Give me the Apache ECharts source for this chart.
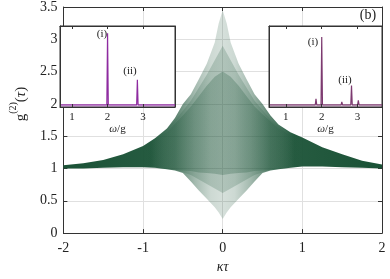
<!DOCTYPE html>
<html><head><meta charset="utf-8">
<script src="https://cdn.jsdelivr.net/npm/echarts@6/dist/echarts.min.js"></script>
<style>html,body{margin:0;padding:0;background:#fff}#c{width:390px;height:279px}</style>
</head><body><div id="c"></div>
<script>
// ---- data ----
// outer envelope of the g2(tau) point cloud
const tau       = [-2, -1.75, -1.5, -1.25, -1, -0.85, -0.7, -0.6, -0.5, -0.4, -0.3, -0.2, -0.1, -0.05, 0, 0.05, 0.1, 0.2, 0.3, 0.4, 0.5, 0.6, 0.7, 0.85, 1, 1.25, 1.5, 1.75, 2];
const upperEnv  = [1.05, 1.08, 1.13, 1.22, 1.35, 1.47, 1.62, 1.78, 2.00, 2.15, 2.38, 2.62, 2.95, 3.25, 3.45, 3.25, 2.95, 2.62, 2.38, 2.15, 2.00, 1.82, 1.68, 1.56, 1.48, 1.33, 1.22, 1.12, 1.06];
const lowerEnv  = [1.00, 1.00, 1.01, 1.02, 1.02, 1.01, 0.99, 0.97, 0.93, 0.80, 0.66, 0.53, 0.40, 0.32, 0.22, 0.32, 0.40, 0.53, 0.66, 0.80, 0.93, 0.97, 0.99, 1.01, 1.03, 1.03, 1.02, 1.01, 1.00];
// denser part of the cloud
const midTau    = [-1.0, -0.8, -0.6, -0.4, -0.2, 0, 0.2, 0.4, 0.6, 0.8, 1.0];
const midUpper  = [1.33, 1.50, 1.74, 2.05, 2.45, 2.90, 2.45, 2.05, 1.76, 1.55, 1.46];
const midLower  = [1.02, 1.00, 0.98, 0.90, 0.76, 0.62, 0.76, 0.90, 0.98, 1.00, 1.03];
// densest core of the cloud
const coreTau   = [-0.9, -0.7, -0.5, -0.4, -0.3, -0.2, -0.1, 0, 0.1, 0.2, 0.3, 0.4, 0.5, 0.7, 0.9];
const coreUpper = [1.42, 1.56, 1.82, 1.96, 2.12, 2.28, 2.42, 2.50, 2.42, 2.28, 2.12, 1.96, 1.84, 1.62, 1.48];
const coreLower = [1.00, 0.99, 0.97, 0.96, 0.94, 0.93, 0.92, 0.90, 0.92, 0.93, 0.94, 0.96, 0.97, 0.99, 1.00];

const insetTicks = [1, 2, 3];
const leftW  = [0.66, 1.70, 1.73, 1.76, 1.98, 2.00, 2.02, 2.82, 2.84, 2.86, 3.90];
const leftS  = [0.03, 0.03, 0.05, 0.03, 0.03, 1.00, 0.03, 0.03, 0.37, 0.03, 0.03];
const rightW = [0.53, 1.82, 1.84, 1.86, 1.98, 2.00, 2.02, 2.54, 2.56, 2.58, 2.81, 2.83, 2.85, 3.00, 3.02, 3.04, 3.47, 3.49, 3.51, 3.68];
const rightS = [0.03, 0.03, 0.11, 0.03, 0.03, 0.95, 0.03, 0.03, 0.07, 0.03, 0.03, 0.29, 0.03, 0.03, 0.09, 0.03, 0.03, 0.05, 0.03, 0.03];

// ---- chart ----
const SERIF = '"Liberation Serif", "DejaVu Serif", serif';
const G = 'rgba(26,82,54,';
const chart = echarts.init(document.getElementById('c'), null, {renderer: 'canvas'});

function poly(api, xs, up, lo) {
  const pts = [];
  for (let i = 0; i < xs.length; i++) pts.push(api.coord([xs[i], up[i]]));
  for (let i = xs.length - 1; i >= 0; i--) pts.push(api.coord([xs[i], lo[i]]));
  return pts;
}
function cloudItem(params, api) {
  const a = api.coord([-2, 0])[0], b = api.coord([2, 0])[0];
  const off = t => (t + 2) / 4;
  const grad = stops => new echarts.graphic.LinearGradient(a, 0, b, 0,
    stops.map(s => ({offset: off(s[0]), color: G + s[1] + ')'})), true);
  const outerFill = grad([[-2, 1], [-0.9, 0.95], [-0.6, 0.72], [-0.35, 0.4], [-0.15, 0.22], [0, 0.18],
                          [0.15, 0.22], [0.35, 0.4], [0.6, 0.72], [0.9, 0.95], [2, 1]]);
  const midFill = grad([[-1.0, 0], [-0.7, 0.15], [-0.4, 0.2], [0.4, 0.2], [0.7, 0.15], [1.0, 0]]);
  const coreFill = grad([[-0.9, 0], [-0.6, 0.2], [-0.3, 0.25], [0.3, 0.25], [0.6, 0.2], [0.9, 0]]);
  return {type: 'group', children: [
    {type: 'polygon', shape: {points: poly(api, tau, upperEnv, lowerEnv)}, style: {fill: outerFill}},
    {type: 'polygon', shape: {points: poly(api, midTau, midUpper, midLower)}, style: {fill: midFill}},
    {type: 'polygon', shape: {points: poly(api, coreTau, coreUpper, coreLower)}, style: {fill: coreFill}}
  ]};
}

const axLine = {show: true, onZero: false, lineStyle: {color: '#333', width: 1}};
const lbl = {fontFamily: SERIF, fontSize: 14, color: '#222'};

function insetX(grid, min, max) {
  return [
    {gridIndex: grid, type: 'value', min: min, max: max, z: 7,
     axisLine: axLine, axisTick: {inside: true, length: 3, customValues: insetTicks, lineStyle: {color: '#333'}},
     axisLabel: {customValues: insetTicks, fontFamily: SERIF, fontSize: 11, color: '#222', margin: 5},
     splitLine: {show: false},
     name: '{w|ω}/g', nameLocation: 'middle', nameGap: 17,
     nameTextStyle: {fontFamily: SERIF, fontSize: 11, color: '#222', rich: {w: {fontFamily: SERIF, fontSize: 11, fontStyle: 'italic', color: '#222'}}}},
    {gridIndex: grid, type: 'value', position: 'top', min: min, max: max, z: 7,
     axisLine: axLine, axisTick: {inside: true, length: 3, customValues: insetTicks, lineStyle: {color: '#333'}},
     axisLabel: {show: false}, splitLine: {show: false}}
  ];
}
function insetY(grid) {
  return [
    {gridIndex: grid, type: 'value', min: 0, max: 1.1, z: 7, axisLine: axLine, axisTick: {show: false}, axisLabel: {show: false}, splitLine: {show: false}},
    {gridIndex: grid, type: 'value', position: 'right', min: 0, max: 1.1, z: 7, axisLine: axLine, axisTick: {show: false}, axisLabel: {show: false}, splitLine: {show: false}}
  ];
}

const option = {
  animation: false,
  backgroundColor: '#fff',
  grid: [
    {left: 59, right: 8, top: 5, bottom: 36},
    {left: 60, top: 26, width: 115, height: 81, show: true, backgroundColor: '#fff', borderColor: '#333', borderWidth: 1, z: 5},
    {left: 269, top: 26, width: 113, height: 81, show: true, backgroundColor: '#fff', borderColor: '#333', borderWidth: 1, z: 5}
  ],
  xAxis: [
    {gridIndex: 0, type: 'value', min: -2, max: 2, interval: 1,
     axisLine: axLine, axisTick: {inside: true, length: 4, lineStyle: {color: '#333'}},
     axisLabel: Object.assign({margin: 8}, lbl),
     splitLine: {show: true, lineStyle: {color: '#e0e0e0', width: 1}},
     name: 'κτ', nameLocation: 'middle', nameGap: 22,
     nameTextStyle: {fontFamily: SERIF, fontSize: 14, fontStyle: 'italic', color: '#222'}},
    {gridIndex: 0, type: 'value', position: 'top', min: -2, max: 2, interval: 1,
     axisLine: axLine, axisTick: {inside: true, length: 4, lineStyle: {color: '#333'}},
     axisLabel: {show: false}, splitLine: {show: false}},
    ...insetX(1, 0.66, 3.9),
    ...insetX(2, 0.53, 3.68)
  ],
  yAxis: [
    {gridIndex: 0, type: 'value', min: 0, max: 3.5, interval: 0.5,
     axisLine: axLine, axisTick: {inside: true, length: 4, lineStyle: {color: '#333'}},
     axisLabel: Object.assign({margin: 6}, lbl),
     splitLine: {show: true, lineStyle: {color: '#e0e0e0', width: 1}},
     name: '{g|g}{s|(2)}{p|(}{t|τ}{p|)}', nameLocation: 'middle', nameGap: 32,
     nameTextStyle: {padding: [0, 0, 0, 32], rich: {
       g: {fontFamily: SERIF, fontSize: 15, color: '#222', verticalAlign: 'bottom', padding: [6, 0, 0, 0]},
       p: {fontFamily: SERIF, fontSize: 15, color: '#222', verticalAlign: 'bottom', padding: [6, 0, 0, 0]},
       t: {fontFamily: SERIF, fontSize: 15, fontStyle: 'italic', color: '#222', verticalAlign: 'bottom', padding: [6, 0, 0, 0]},
       s: {fontFamily: SERIF, fontSize: 10, color: '#222', verticalAlign: 'top'}
     }}},
    {gridIndex: 0, type: 'value', position: 'right', min: 0, max: 3.5, interval: 0.5,
     axisLine: axLine, axisTick: {inside: true, length: 4, lineStyle: {color: '#333'}},
     axisLabel: {show: false}, splitLine: {show: false}},
    ...insetY(1),
    ...insetY(2)
  ],
  series: [
    {type: 'custom', xAxisIndex: 0, yAxisIndex: 0, z: 2, silent: true, data: [[0, 1]], renderItem: cloudItem},
    {type: 'line', xAxisIndex: 2, yAxisIndex: 2, z: 6, symbol: 'none', silent: true,
     data: leftW.map((w, i) => [w, leftS[i]]),
     lineStyle: {color: '#8e2ba0', width: 1.2},
     areaStyle: {color: 'rgba(142,43,160,0.3)'}},
    {type: 'line', xAxisIndex: 4, yAxisIndex: 4, z: 6, symbol: 'none', silent: true,
     data: rightW.map((w, i) => [w, rightS[i]]),
     lineStyle: {color: '#7d3a70', width: 1.2},
     areaStyle: {color: 'rgba(125,58,112,0.3)'}}
  ],
  graphic: [
    {type: 'text', z: 100, x: 368, y: 15, style: {text: '(b)', fontFamily: SERIF, fontSize: 14, fill: '#222', align: 'center', verticalAlign: 'middle'}},
    {type: 'text', z: 100, x: 102, y: 34, style: {text: '(i)', fontFamily: SERIF, fontSize: 11, fill: '#222', align: 'center', verticalAlign: 'middle'}},
    {type: 'text', z: 100, x: 130, y: 71, style: {text: '(ii)', fontFamily: SERIF, fontSize: 11, fill: '#222', align: 'center', verticalAlign: 'middle'}},
    {type: 'text', z: 100, x: 313, y: 42, style: {text: '(i)', fontFamily: SERIF, fontSize: 11, fill: '#222', align: 'center', verticalAlign: 'middle'}},
    {type: 'text', z: 100, x: 345, y: 80, style: {text: '(ii)', fontFamily: SERIF, fontSize: 11, fill: '#222', align: 'center', verticalAlign: 'middle'}}
  ]
};
chart.setOption(option);
</script>
</body></html>
